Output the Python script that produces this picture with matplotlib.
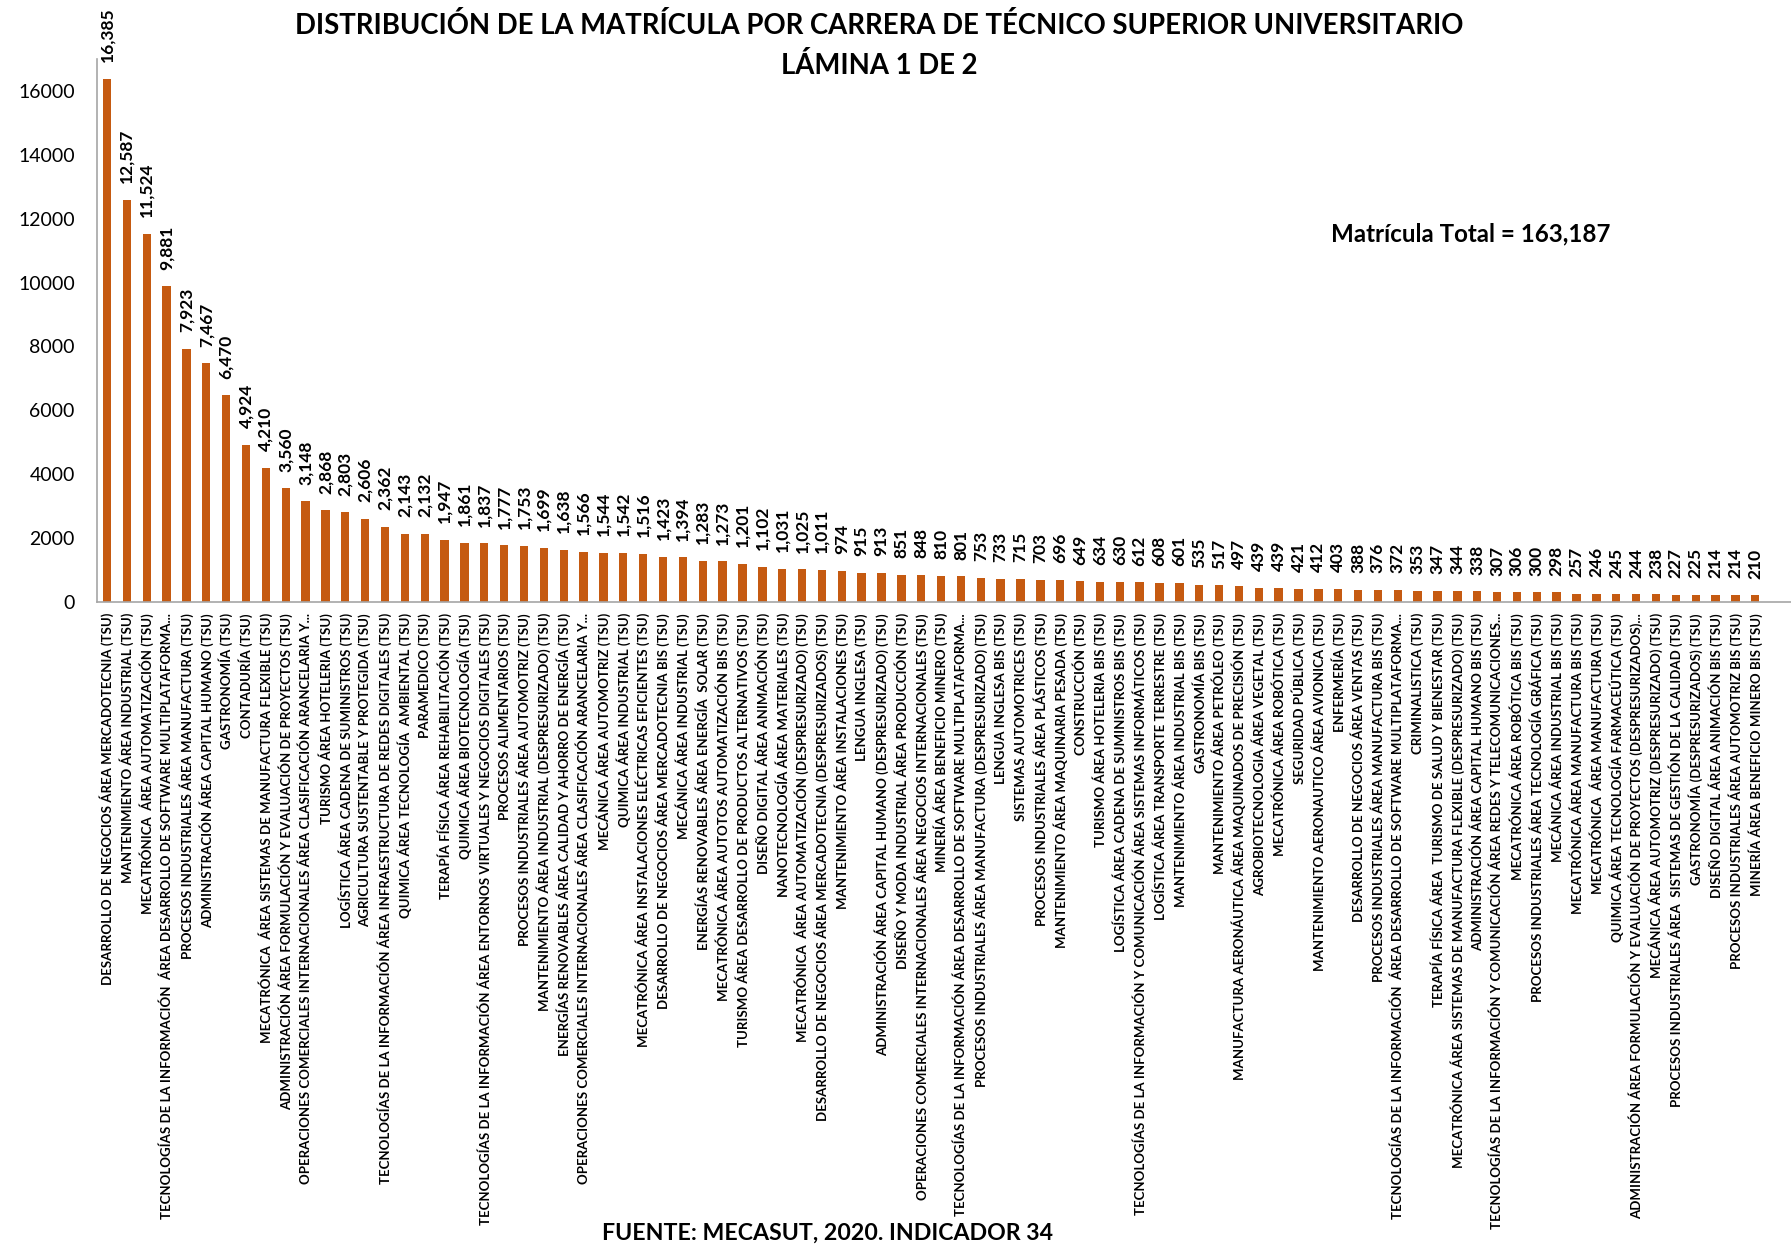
import numpy as np
import matplotlib
matplotlib.use("Agg")
import matplotlib.pyplot as plt

plt.rcParams['font.family'] = ['Lato', 'DejaVu Sans']

carreras = [
    "DESARROLLO DE NEGOCIOS ÁREA MERCADOTECNIA (TSU)",
    "MANTENIMIENTO ÁREA INDUSTRIAL (TSU)",
    "MECATRÓNICA  ÁREA AUTOMATIZACIÓN (TSU)",
    "TECNOLOGÍAS DE LA INFORMACIÓN  ÁREA DESARROLLO DE SOFTWARE MULTIPLATAFORMA...",
    "PROCESOS INDUSTRIALES ÁREA MANUFACTURA (TSU)",
    "ADMINISTRACIÓN ÁREA CAPITAL HUMANO (TSU)",
    "GASTRONOMÍA (TSU)",
    "CONTADURÍA (TSU)",
    "MECATRÓNICA  ÁREA SISTEMAS DE MANUFACTURA FLEXIBLE (TSU)",
    "ADMINISTRACIÓN ÁREA FORMULACIÓN Y EVALUACIÓN DE PROYECTOS (TSU)",
    "OPERACIONES COMERCIALES INTERNACIONALES ÁREA CLASIFICACIÓN ARANCELARIA Y...",
    "TURISMO ÁREA HOTELERIA (TSU)",
    "LOGÍSTICA ÁREA CADENA DE SUMINISTROS (TSU)",
    "AGRICULTURA SUSTENTABLE Y PROTEGIDA (TSU)",
    "TECNOLOGÍAS DE LA INFORMACIÓN ÁREA INFRAESTRUCTURA DE REDES DIGITALES (TSU)",
    "QUIMICA ÁREA TECNOLOGÍA  AMBIENTAL (TSU)",
    "PARAMEDICO (TSU)",
    "TERAPÍA FÍSICA ÁREA REHABILITACIÓN (TSU)",
    "QUIMICA ÁREA BIOTECNOLOGÍA (TSU)",
    "TECNOLOGÍAS DE LA INFORMACIÓN ÁREA ENTORNOS VIRTUALES Y NEGOCIOS DIGITALES (TSU)",
    "PROCESOS ALIMENTARIOS (TSU)",
    "PROCESOS INDUSTRIALES ÁREA AUTOMOTRIZ (TSU)",
    "MANTENIMIENTO ÁREA INDUSTRIAL (DESPRESURIZADO) (TSU)",
    "ENERGÍAS RENOVABLES ÁREA CALIDAD Y AHORRO DE ENERGÍA (TSU)",
    "OPERACIONES COMERCIALES INTERNACIONALES ÁREA CLASIFICACIÓN ARANCELARIA Y...",
    "MECÁNICA ÁREA AUTOMOTRIZ (TSU)",
    "QUIMICA ÁREA INDUSTRIAL (TSU)",
    "MECATRÓNICA ÁREA INSTALACIONES ELÉCTRICAS EFICIENTES (TSU)",
    "DESARROLLO DE NEGOCIOS ÁREA MERCADOTECNIA BIS (TSU)",
    "MECÁNICA ÁREA INDUSTRIAL (TSU)",
    "ENERGÍAS RENOVABLES ÁREA ENERGÍA  SOLAR (TSU)",
    "MECATRÓNICA ÁREA AUTOTOS AUTOMATIZACIÓN BIS (TSU)",
    "TURISMO ÁREA DESARROLLO DE PRODUCTOS ALTERNATIVOS (TSU)",
    "DISEÑO DIGITAL ÁREA ANIMACIÓN (TSU)",
    "NANOTECNOLOGÍA ÁREA MATERIALES (TSU)",
    "MECATRÓNICA  ÁREA AUTOMATIZACIÓN (DESPRESURIZADO) (TSU)",
    "DESARROLLO DE NEGOCIOS ÁREA MERCADOTECNIA (DESPRESURIZADOS) (TSU)",
    "MANTENIMIENTO ÁREA INSTALACIONES (TSU)",
    "LENGUA INGLESA (TSU)",
    "ADMINISTRACIÓN ÁREA CAPITAL HUMANO (DESPRESURIZADO) (TSU)",
    "DISEÑO Y MODA INDUSTRIAL ÁREA PRODUCCIÓN (TSU)",
    "OPERACIONES COMERCIALES INTERNACIONALES ÁREA NEGOCIOS INTERNACIONALES (TSU)",
    "MINERÍA ÁREA BENEFICIO MINERO (TSU)",
    "TECNOLOGÍAS DE LA INFORMACIÓN ÁREA DESARROLLO DE SOFTWARE MULTIPLATAFORMA...",
    "PROCESOS INDUSTRIALES ÁREA MANUFACTURA (DESPRESURIZADO) (TSU)",
    "LENGUA INGLESA BIS (TSU)",
    "SISTEMAS AUTOMOTRICES (TSU)",
    "PROCESOS INDUSTRIALES ÁREA PLÁSTICOS (TSU)",
    "MANTENIMIENTO ÁREA MAQUINARIA PESADA (TSU)",
    "CONSTRUCCIÓN (TSU)",
    "TURISMO ÁREA HOTELERIA BIS (TSU)",
    "LOGÍSTICA ÁREA CADENA DE SUMINISTROS BIS (TSU)",
    "TECNOLOGÍAS DE LA INFORMACIÓN Y COMUNICACIÓN ÁREA SISTEMAS INFORMÁTICOS (TSU)",
    "LOGÍSTICA ÁREA TRANSPORTE TERRESTRE (TSU)",
    "MANTENIMIENTO ÁREA INDUSTRIAL BIS (TSU)",
    "GASTRONOMÍA BIS (TSU)",
    "MANTENIMIENTO ÁREA PETRÓLEO (TSU)",
    "MANUFACTURA AERONÁUTICA ÁREA MAQUINADOS DE PRECISIÓN (TSU)",
    "AGROBIOTECNOLOGIA ÁREA VEGETAL (TSU)",
    "MECATRÓNICA ÁREA ROBÓTICA (TSU)",
    "SEGURIDAD PÚBLICA (TSU)",
    "MANTENIMIENTO AERONAUTICO ÁREA AVIONICA (TSU)",
    "ENFERMERÍA (TSU)",
    "DESARROLLO DE NEGOCIOS ÁREA VENTAS (TSU)",
    "PROCESOS INDUSTRIALES ÁREA MANUFACTURA BIS (TSU)",
    "TECNOLOGÍAS DE LA INFORMACIÓN  ÁREA DESARROLLO DE SOFTWARE MULTIPLATAFORMA...",
    "CRIMINALISTICA (TSU)",
    "TERAPÍA FÍSICA ÁREA  TURISMO DE SALUD Y BIENESTAR (TSU)",
    "MECATRÓNICA ÁREA SISTEMAS DE MANUFACTURA FLEXIBLE (DESPRESURIZADO) (TSU)",
    "ADMINISTRACIÓN ÁREA CAPITAL HUMANO BIS (TSU)",
    "TECNOLOGÍAS DE LA INFORMACIÓN Y COMUNICACIÓN ÁREA REDES Y TELECOMUNICACIONES...",
    "MECATRÓNICA ÁREA ROBÓTICA BIS (TSU)",
    "PROCESOS INDUSTRIALES ÁREA TECNOLOGÍA GRÁFICA (TSU)",
    "MECÁNICA ÁREA INDUSTRIAL BIS (TSU)",
    "MECATRÓNICA ÁREA MANUFACTURA BIS (TSU)",
    "MECATRÓNICA  ÁREA MANUFACTURA (TSU)",
    "QUIMICA ÁREA TECNOLOGÍA FARMACEÚTICA (TSU)",
    "ADMINISTRACIÓN ÁREA FORMULACIÓN Y EVALUACIÓN DE PROYECTOS (DESPRESURIZADOS)...",
    "MECÁNICA ÁREA AUTOMOTRIZ (DESPRESURIZADO) (TSU)",
    "PROCESOS INDUSTRIALES ÁREA  SISTEMAS DE GESTIÓN DE LA CALIDAD (TSU)",
    "GASTRONOMÍA (DESPRESURIZADOS) (TSU)",
    "DISEÑO DIGITAL ÁREA ANIMACIÓN BIS (TSU)",
    "PROCESOS INDUSTRIALES ÁREA AUTOMOTRIZ BIS (TSU)",
    "MINERÍA ÁREA BENEFICIO MINERO BIS (TSU)",
]

matricula = [
    16385, 12587, 11524, 9881, 7923, 7467, 6470, 4924, 4210, 3560,
    3148, 2868, 2803, 2606, 2362, 2143, 2132, 1947, 1861, 1837,
    1777, 1753, 1699, 1638, 1566, 1544, 1542, 1516, 1423, 1394,
    1283, 1273, 1201, 1102, 1031, 1025, 1011, 974, 915, 913,
    851, 848, 810, 801, 753, 733, 715, 703, 696, 649,
    634, 630, 612, 608, 601, 535, 517, 497, 439, 439,
    421, 412, 403, 388, 376, 372, 353, 347, 344, 338,
    307, 306, 300, 298, 257, 246, 245, 244, 238, 227,
    225, 214, 214, 210,
]

total = 163187
color_barra = "#C55A11"
gris = "#A6A6A6"

fig = plt.figure(figsize=(17.91, 12.5), dpi=100)
ax = fig.add_axes([0.0542, 0.5184, 0.9458, 0.4344])

x = np.arange(len(matricula))
ax.bar(x, matricula, width=0.42, color=color_barra)

# etiquetas de valor encima de cada barra
for xi, v in zip(x, matricula):
    ax.annotate(f"{v:,}", (xi, v), xytext=(0, 12), textcoords="offset points",
                rotation=90, ha="center", va="bottom",
                fontsize=12.5, fontweight="bold")

ax.set_xlim(-0.5, 84.8)
ax.set_ylim(0, 17000)
ax.set_yticks(np.arange(0, 16001, 2000))
ax.tick_params(axis="y", length=0, pad=16, labelsize=14)
ax.set_xticks(x)
ax.set_xticklabels(carreras, rotation=90, ha="center", va="top",
                   fontsize=9.5, fontweight="bold")
ax.tick_params(axis="x", length=0, pad=8)

for s in ["top", "right"]:
    ax.spines[s].set_visible(False)
for s in ["left", "bottom"]:
    ax.spines[s].set_color(gris)
    ax.spines[s].set_linewidth(1.2)

fig.text(0.491, 0.980, "DISTRIBUCIÓN DE LA MATRÍCULA POR CARRERA DE TÉCNICO SUPERIOR UNIVERSITARIO",
         ha="center", va="center", fontsize=19.8, fontweight="bold")
fig.text(0.491, 0.948, "LÁMINA 1 DE 2", ha="center", va="center",
         fontsize=19.8, fontweight="bold")
fig.text(0.821, 0.813, f"Matrícula Total = {total:,}", ha="center", va="center",
         fontsize=17.4, fontweight="bold")
fig.text(0.462, 0.0136, "FUENTE: MECASUT, 2020. INDICADOR 34", ha="center", va="center",
         fontsize=16.7, fontweight="bold")

plt.savefig("out.png", dpi=100)
plt.close()
